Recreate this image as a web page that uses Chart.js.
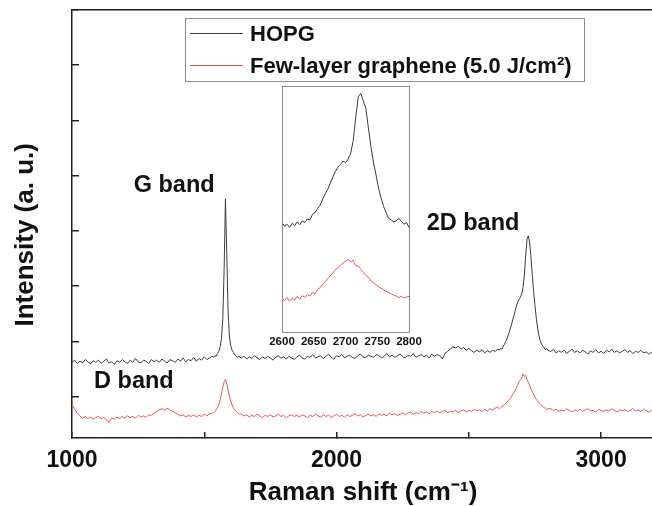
<!DOCTYPE html>
<html>
<head>
<meta charset="utf-8">
<script src="https://cdn.jsdelivr.net/npm/chart.js@4/dist/chart.umd.min.js"></script>
<style>
html,body{margin:0;padding:0;background:#fff;overflow:hidden;width:652px;height:506px;}
#wrap{position:relative;width:652px;height:506px;overflow:hidden;}
#main{position:absolute;left:0;top:0;}
#inset{position:absolute;left:262px;top:80px;}
</style>
</head>
<body>
<div id="wrap">
<canvas id="main" width="656" height="506"></canvas>
<canvas id="inset" width="165" height="275"></canvas>
</div>
<script>
// ---------- DATA ----------
const ramanShift = [
1000,1010,1020,1030,1040,1050,1060,1070,1080,1090,
1100,1110,1120,1130,1140,1150,1160,1170,1180,1190,
1200,1210,1220,1230,1240,1250,1260,1270,1280,1290,
1300,1310,1320,1330,1340,1350,1360,1370,1380,1390,
1400,1410,1420,1430,1440,1450,1460,1470,1480,1490,
1500,1510,1520,1530,
1535,1540,1545,1550,1555,1560,1565,1570,1575,1580,
1585,1590,1595,1600,1605,1610,1615,1620,1625,1630,
1640,1650,1660,1670,1680,1690,1700,1710,1720,1730,
1740,1750,1760,1770,1780,1790,1800,1810,1820,1830,
1840,1850,1860,1870,1880,1890,1900,1910,1920,1930,
1940,1950,1960,1970,1980,1990,2000,2010,2020,2030,
2040,2050,2060,2070,2080,2090,2100,2110,2120,2130,
2140,2150,2160,2170,2180,2190,2200,2210,2220,2230,
2240,2250,2260,2270,2280,2290,2300,2310,2320,2330,
2340,2350,2360,2370,2380,2390,2400,2410,2420,2430,
2440,2450,2460,2470,2480,2490,2500,2510,2520,2530,
2540,2550,2560,2570,2580,2590,2600,2610,
2615,2620,2625,2630,2635,2640,2645,2650,2655,2660,
2665,2670,2675,2680,2685,2690,2695,2700,2705,2710,
2715,2720,2725,2730,2735,2740,2745,2750,2755,2760,
2765,2770,2775,2780,2785,2790,2795,2800,
2810,2820,2830,2840,2850,2860,2870,2880,2890,2900,
2910,2920,2930,2940,2950,2960,2970,2980,2990,3000,
3010,3020,3030,3040,3050,3060,3070,3080,3090,3100,
3110,3120,3130,3140,3150,3160,3170,3180,3190,3200
];

const hopgIntensity = [
0.62,0.66,0.60,0.64,0.61,0.67,0.63,0.59,0.65,0.62,
0.66,0.60,0.64,0.68,0.61,0.63,0.58,0.65,0.62,0.67,
0.63,0.60,0.66,0.62,0.69,0.63,0.61,0.66,0.64,0.60,
0.67,0.63,0.66,0.62,0.68,0.64,0.61,0.67,0.65,0.62,
0.68,0.64,0.70,0.63,0.67,0.65,0.71,0.64,0.69,0.66,
0.72,0.67,0.70,0.73,
0.71,0.74,0.73,0.78,0.82,0.90,1.05,1.40,2.30,3.58,
2.60,1.55,1.10,0.92,0.84,0.80,0.76,0.74,0.71,0.73,
0.70,0.73,0.68,0.72,0.69,0.74,0.70,0.67,0.72,0.69,
0.73,0.70,0.66,0.71,0.74,0.69,0.72,0.68,0.73,0.70,
0.67,0.72,0.75,0.70,0.68,0.73,0.71,0.76,0.70,0.72,
0.74,0.69,0.73,0.77,0.71,0.68,0.74,0.72,0.76,0.70,
0.73,0.75,0.71,0.69,0.74,0.77,0.72,0.70,0.75,0.73,
0.71,0.76,0.74,0.70,0.73,0.78,0.72,0.75,0.71,0.74,
0.77,0.72,0.70,0.75,0.73,0.78,0.71,0.74,0.76,0.72,
0.75,0.70,0.77,0.73,0.76,0.74,0.68,0.78,0.82,0.86,
0.90,0.88,0.91,0.86,0.89,0.84,0.87,0.83,0.80,0.84,
0.81,0.85,0.79,0.83,0.80,0.84,0.82,0.86,
0.84,0.87,0.86,0.91,0.95,1.00,1.06,1.13,1.20,1.28,
1.37,1.46,1.55,1.64,1.71,1.76,1.80,1.86,1.98,2.20,
2.55,2.85,2.91,2.78,2.52,2.20,1.90,1.65,1.42,1.24,
1.10,1.01,0.95,0.91,0.88,0.85,0.87,0.83,
0.82,0.85,0.79,0.83,0.80,0.84,0.78,0.82,0.86,0.80,
0.83,0.79,0.84,0.81,0.77,0.83,0.80,0.85,0.79,0.82,
0.78,0.84,0.81,0.86,0.80,0.83,0.79,0.82,0.85,0.80,
0.83,0.78,0.82,0.80,0.84,0.79,0.81,0.77,0.80,0.78
];

const grapheneIntensity = [
-0.14,-0.23,-0.31,-0.35,-0.39,-0.36,-0.40,-0.37,-0.41,-0.38,
-0.36,-0.40,-0.38,-0.42,-0.47,-0.39,-0.41,-0.37,-0.40,-0.36,
-0.39,-0.35,-0.38,-0.36,-0.39,-0.34,-0.37,-0.35,-0.38,-0.33,
-0.34,-0.30,-0.27,-0.24,-0.22,-0.25,-0.21,-0.24,-0.27,-0.29,
-0.32,-0.35,-0.33,-0.37,-0.34,-0.36,-0.33,-0.37,-0.34,-0.36,
-0.32,-0.35,-0.31,-0.30,
-0.29,-0.27,-0.24,-0.20,-0.14,-0.06,0.05,0.17,0.27,0.31,
0.24,0.12,0.01,-0.08,-0.15,-0.20,-0.24,-0.27,-0.29,-0.31,
-0.32,-0.35,-0.33,-0.37,-0.34,-0.36,-0.32,-0.35,-0.38,-0.34,
-0.36,-0.33,-0.37,-0.35,-0.32,-0.36,-0.34,-0.38,-0.35,-0.33,
-0.36,-0.34,-0.37,-0.33,-0.35,-0.38,-0.34,-0.36,-0.32,-0.35,
-0.37,-0.33,-0.36,-0.34,-0.38,-0.35,-0.32,-0.36,-0.34,-0.37,
-0.33,-0.36,-0.34,-0.31,-0.35,-0.33,-0.37,-0.34,-0.32,-0.35,
-0.33,-0.36,-0.31,-0.34,-0.32,-0.35,-0.30,-0.33,-0.31,-0.34,
-0.32,-0.29,-0.33,-0.30,-0.28,-0.32,-0.29,-0.31,-0.27,-0.30,
-0.28,-0.31,-0.27,-0.29,-0.26,-0.30,-0.27,-0.25,-0.29,-0.26,
-0.28,-0.25,-0.29,-0.26,-0.24,-0.28,-0.25,-0.27,-0.23,-0.26,
-0.24,-0.27,-0.23,-0.26,-0.22,-0.25,-0.21,-0.19,
-0.22,-0.20,-0.18,-0.17,-0.14,-0.12,-0.09,-0.07,-0.04,-0.01,
0.03,0.07,0.11,0.16,0.22,0.27,0.31,0.33,0.41,0.37,
0.38,0.30,0.26,0.20,0.14,0.09,0.04,-0.01,-0.05,-0.08,
-0.11,-0.13,-0.16,-0.18,-0.20,-0.21,-0.23,-0.22,
-0.22,-0.25,-0.23,-0.27,-0.24,-0.26,-0.22,-0.25,-0.28,-0.24,
-0.26,-0.23,-0.27,-0.24,-0.22,-0.26,-0.25,-0.28,-0.23,-0.25,
-0.27,-0.24,-0.26,-0.22,-0.25,-0.28,-0.24,-0.26,-0.23,-0.27,
-0.25,-0.22,-0.26,-0.24,-0.27,-0.23,-0.26,-0.28,-0.25,-0.27
];

// inset (2D band zoom)
const insetShift = [
2600,2604,2608,2612,2616,2620,2624,2628,2632,2636,
2640,2644,2648,2652,2656,2660,2664,2668,2672,2676,
2680,2684,2688,2692,2696,2700,2704,2708,2712,2716,
2720,2724,2728,2732,2736,2740,2744,2748,2752,2756,
2760,2764,2768,2772,2776,2780,2784,2788,2792,2796,
2800
];
const insetHopg = [
4.45,4.30,4.38,4.25,4.42,4.32,4.48,4.36,4.52,4.45,
4.60,4.55,4.78,4.85,5.02,5.15,5.40,5.62,5.80,6.05,
6.30,6.52,6.70,6.80,6.95,6.88,7.02,7.25,7.75,8.70,
9.55,9.70,9.40,9.10,8.30,7.55,6.90,6.40,5.85,5.45,
5.10,4.85,4.62,4.55,4.48,4.52,4.62,4.50,4.38,4.45,
4.25
];
const insetGraphene = [
1.35,1.28,1.40,1.25,1.38,1.30,1.45,1.33,1.48,1.40,
1.52,1.46,1.62,1.55,1.72,1.80,1.95,2.05,2.18,2.28,
2.40,2.52,2.60,2.72,2.80,2.88,2.95,2.85,2.92,2.70,
2.68,2.55,2.42,2.30,2.22,2.08,2.00,1.92,1.85,1.78,
1.72,1.65,1.60,1.55,1.50,1.46,1.40,1.45,1.38,1.42,
1.45
];

const seriesLabels = ['HOPG', 'Few-layer graphene (5.0 J/cm\u00B2)'];
const xTickValues = [1000, 1500, 2000, 2500, 3000];
const xTickLabels = [1000, 2000, 3000];
const yTickValues = [0, 1, 2, 3, 4, 5, 6, 7];
const insetTickLabels = [2600, 2650, 2700, 2750, 2800];
const bandLabels = ['G band', '2D band', 'D band'];
const bandLabelAt = [[1386, 3.83], [2516, 3.13], [1234, 0.27]]; // data coords

// ---------- STYLE ----------
const FONT = '"Liberation Sans", Arial, Helvetica, sans-serif';
const TXT = '#111';
const BLACK = '#3a3a3a';
const RED = '#ea5457';

const toPts = (xs, ys) => xs.map((x, i) => ({x: x, y: ys[i]}));

const legendPlugin = {
  id: 'legendBox',
  afterDraw(chart) {
    const c = chart.ctx;
    c.save();
    c.strokeStyle = '#8c8c8c';
    c.lineWidth = 1;
    c.strokeRect(185.5, 18.5, 399, 63);
    const rows = [34.5, 67];
    chart.data.datasets.forEach((ds, i) => {
      c.strokeStyle = ds.borderColor;
      c.lineWidth = 1;
      c.beginPath();
      c.moveTo(190, Math.round(rows[i]) - 1.5);
      c.lineTo(243, Math.round(rows[i]) - 1.5);
      c.stroke();
      c.fillStyle = TXT;
      c.font = 'bold 22px ' + FONT;
      c.textBaseline = 'middle';
      c.textAlign = 'left';
      c.fillText(ds.label, 250, rows[i]);
    });
    c.restore();
  }
};

const bandPlugin = {
  id: 'bands',
  afterDraw(chart) {
    const c = chart.ctx, xs = chart.scales.x, ys = chart.scales.y;
    c.save();
    c.fillStyle = TXT;
    c.font = 'bold 23.5px ' + FONT;
    c.textAlign = 'center';
    c.textBaseline = 'middle';
    bandLabels.forEach((t, i) => {
      c.fillText(t, xs.getPixelForValue(bandLabelAt[i][0]), ys.getPixelForValue(bandLabelAt[i][1]));
    });
    c.restore();
  }
};

new Chart(document.getElementById('main'), {
  type: 'line',
  data: {
    datasets: [
      {label: seriesLabels[0], data: toPts(ramanShift, hopgIntensity), borderColor: BLACK, borderWidth: 1, pointRadius: 0, tension: 0},
      {label: seriesLabels[1], data: toPts(ramanShift, grapheneIntensity), borderColor: RED, borderWidth: 1, pointRadius: 0, tension: 0}
    ]
  },
  options: {
    responsive: false,
    animation: false,
    events: [],
    layout: {padding: {top: 10, right: 2, left: 0, bottom: 0}},
    plugins: {legend: {display: false}, tooltip: {enabled: false}},
    scales: {
      x: {
        type: 'linear', position: 'bottom', min: 1000, max: 3200,
        afterBuildTicks: a => { a.ticks = xTickValues.map(v => ({value: v})); },
        ticks: {
          autoSkip: false, maxRotation: 0, padding: 15, color: TXT,
          font: {family: FONT, size: 23, weight: 'bold'},
          callback: v => xTickLabels.includes(v) ? String(v) : ''
        },
        grid: {drawOnChartArea: false, drawTicks: true, tickLength: -6, color: '#222', lineWidth: 1.5},
        border: {display: true, color: '#222', width: 1.5},
        title: {display: true, text: 'Raman shift (cm\u207B\u00B9)', color: TXT, padding: {top: 0, bottom: 0},
                font: {family: FONT, size: 26, weight: 'bold', lineHeight: 1}},
        afterFit: s => { s.height = 68; }
      },
      xTop: {
        type: 'linear', position: 'top', min: 1000, max: 3200,
        ticks: {display: false},
        grid: {drawOnChartArea: false, drawTicks: false, color: '#222'},
        border: {display: true, color: '#222', width: 1.5},
        afterFit: s => { s.height = 0; }
      },
      y: {
        type: 'linear', position: 'left', min: -0.75, max: 7,
        afterBuildTicks: a => { a.ticks = yTickValues.map(v => ({value: v})); },
        ticks: {display: false},
        grid: {drawOnChartArea: false, drawTicks: true, tickLength: -7, color: '#222', lineWidth: 1.5},
        border: {display: true, color: '#222', width: 1.5},
        title: {display: true, text: 'Intensity (a. u.)\u00A0\u00A0\u00A0', color: TXT, padding: {top: 13, bottom: 0},
                font: {family: FONT, size: 26, weight: 'bold', lineHeight: 1}},
        afterFit: s => { s.width = 72; }
      }
    }
  },
  plugins: [legendPlugin, bandPlugin]
});

const insetFrame = {
  id: 'insetFrame',
  beforeDraw(chart) {
    const a = chart.chartArea, c = chart.ctx;
    c.save(); c.fillStyle = '#fff';
    c.fillRect(a.left, a.top, a.right - a.left, a.bottom - a.top);
    c.restore();
  },
  afterDraw(chart) {
    const a = chart.chartArea, c = chart.ctx;
    c.save(); c.strokeStyle = '#8c8c8c'; c.lineWidth = 1;
    c.strokeRect(Math.round(a.left) + 0.5, Math.round(a.top) + 0.5, Math.round(a.right - a.left), Math.round(a.bottom - a.top));
    c.restore();
  }
};

new Chart(document.getElementById('inset'), {
  type: 'line',
  data: {
    datasets: [
      {label: seriesLabels[0], data: toPts(insetShift, insetHopg), borderColor: BLACK, borderWidth: 1, pointRadius: 0, tension: 0},
      {label: seriesLabels[1], data: toPts(insetShift, insetGraphene), borderColor: RED, borderWidth: 1, pointRadius: 0, tension: 0}
    ]
  },
  options: {
    responsive: false,
    animation: false,
    events: [],
    layout: {padding: {top: 6, right: 18, left: 20, bottom: 0}},
    plugins: {legend: {display: false}, tooltip: {enabled: false}},
    scales: {
      x: {
        type: 'linear', position: 'bottom', min: 2600, max: 2800,
        afterBuildTicks: a => { a.ticks = insetTickLabels.map(v => ({value: v})); },
        ticks: {autoSkip: false, maxRotation: 0, padding: 3, color: TXT,
                font: {family: FONT, size: 11.5, weight: 'bold'}, callback: v => String(v)},
        grid: {display: false, drawTicks: false},
        border: {display: false},
        afterFit: s => { s.height = 23; }
      },
      y: {display: false, min: 0, max: 10}
    }
  },
  plugins: [insetFrame]
});
</script>
</body>
</html>
